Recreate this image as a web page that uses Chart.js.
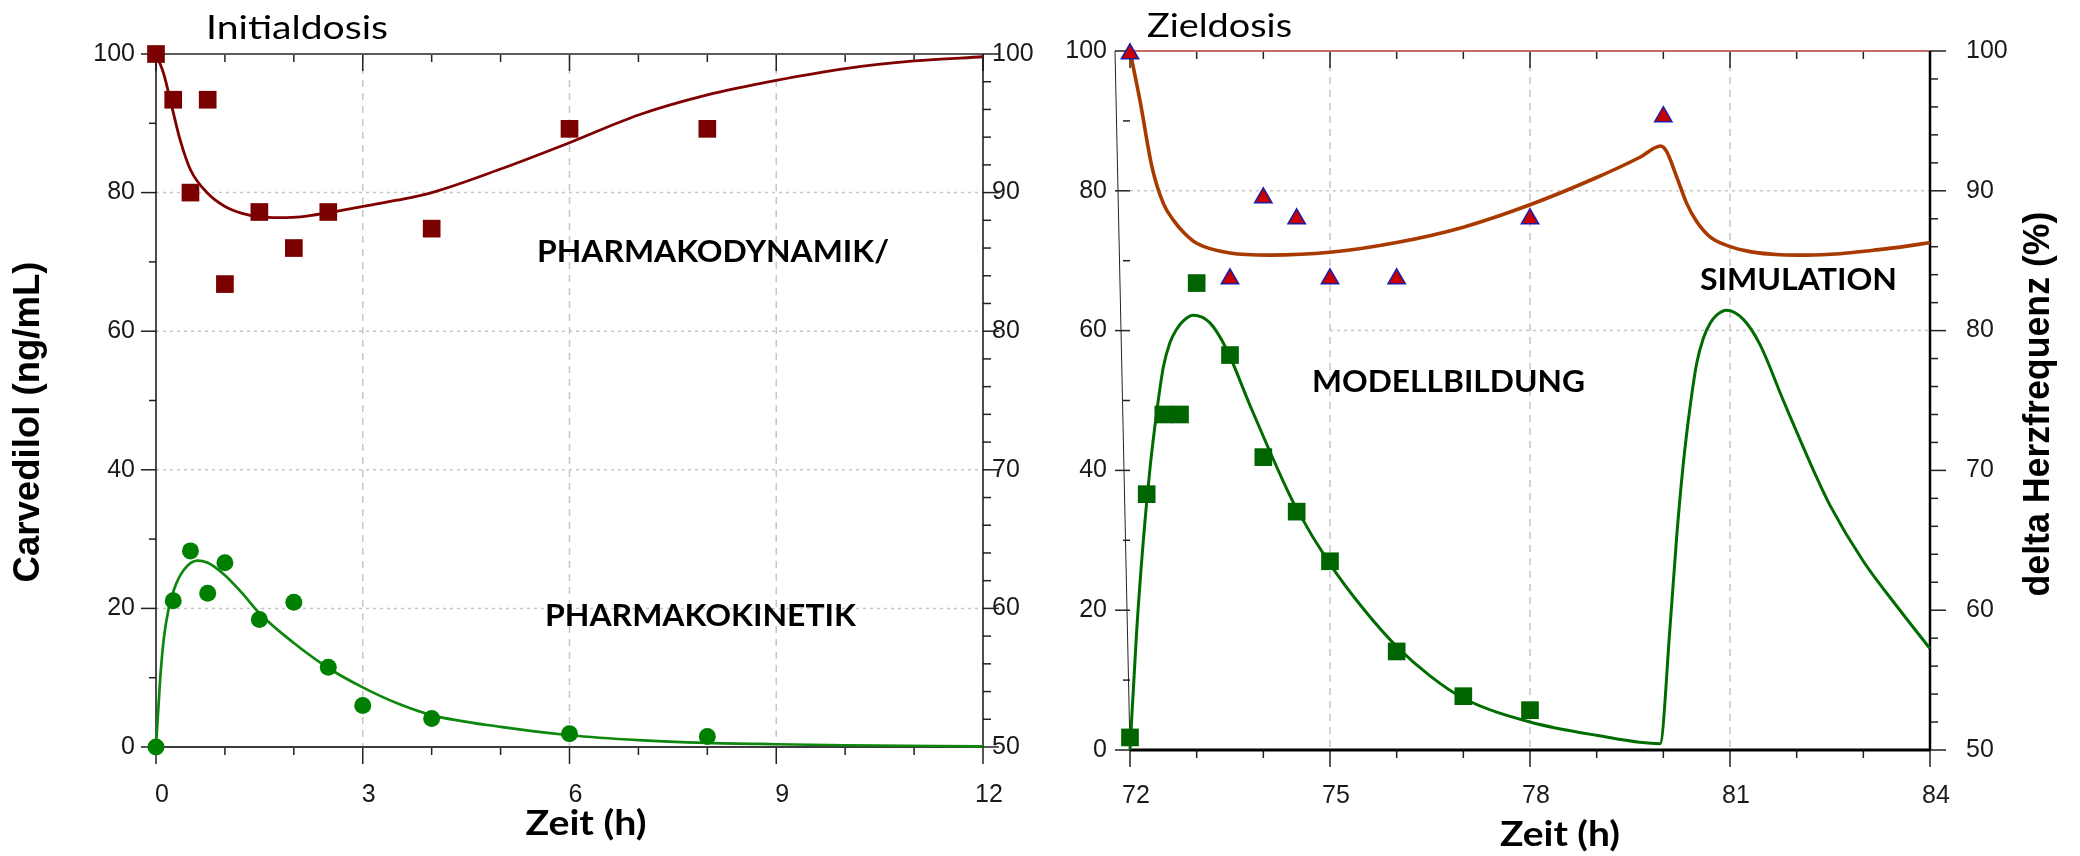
<!DOCTYPE html>
<html>
<head>
<meta charset="utf-8">
<script src="https://cdn.jsdelivr.net/npm/chart.js@4.4.1/dist/chart.umd.min.js"></script>
<style>
  body { margin: 0; background: #fff; }
  .box { position: absolute; top: 0; }
</style>
</head>
<body>
<div class="box" style="left:0"><canvas id="left" width="1050" height="856"></canvas></div>
<div class="box" style="left:1050px"><canvas id="right" width="1030" height="856"></canvas></div>
<script>
// --- Initialdosis (0-12 h) ---
const initConcTime = [0, 0.25, 0.5, 0.75, 1, 1.5, 2, 2.5, 3, 4, 6, 8];
const initConcObs  = [0, 21.1, 28.3, 22.2, 26.6, 18.4, 20.9, 11.5, 6.0, 4.1, 1.9, 1.5];
const initHrTime   = [0, 0.25, 0.5, 0.75, 1, 1.5, 2, 2.5, 4, 6, 8];
const initHrObs    = [100, 96.7, 90, 96.7, 83.4, 88.6, 86, 88.6, 87.4, 94.6, 94.6];
const initConcFitTime = [0, 0.06, 0.11, 0.18, 0.26, 0.4, 0.6, 0.75, 1, 1.25, 1.5, 2, 2.5, 3, 3.5, 4, 5, 6, 7, 8, 9, 10, 12];
const initConcFit     = [0, 9.7, 15.4, 19.8, 22.7, 25.5, 26.9, 26.6, 24.8, 22.2, 19.3, 15.0, 11.4, 8.6, 6.3, 4.6, 2.9, 1.7, 1.0, 0.6, 0.4, 0.25, 0.1];
const initHrFitTime = [0, 0.11, 0.23, 0.35, 0.5, 0.75, 1, 1.25, 1.5, 1.8, 2.1, 2.5, 3, 3.5, 4, 5, 6, 7, 8, 9, 10, 11, 12];
const initHrFit     = [100, 98.6, 96.2, 93.8, 91.65, 89.95, 89.0, 88.5, 88.25, 88.2, 88.25, 88.55, 89.0, 89.45, 90.0, 91.7, 93.6, 95.6, 97.05, 98.1, 98.95, 99.5, 99.8];

// --- Zieldosis (72-84 h) ---
const targConcTime = [72, 72.25, 72.5, 72.75, 73, 73.5, 74, 74.5, 75, 76, 77, 78];
const targConcObs  = [1.8, 36.6, 48.0, 48.0, 66.8, 56.5, 41.9, 34.1, 27.0, 14.1, 7.7, 5.7];
const targHrTime   = [72, 73.5, 74, 74.5, 75, 76, 78, 80];
const targHrObs    = [99.8, 83.7, 89.5, 88.0, 83.7, 83.7, 88.0, 95.3];
const targConcFitTime = [72, 72.1, 72.2, 72.3, 72.4, 72.5, 72.6, 72.7, 72.8, 72.95, 73.2, 73.45, 73.8, 74.3, 74.5, 75, 75.5, 76, 76.5, 77, 78, 79, 79.95,
                         80.1, 80.2, 80.3, 80.4, 80.5, 80.6, 80.7, 80.8, 80.95, 81.2, 81.45, 81.8, 82.3, 82.5, 83, 83.5, 84];
const targConcFit     = [0, 17, 30, 40.3, 48.3, 54.8, 58.3, 60.2, 61.4, 62.2, 61.1, 57.3, 49.3, 38.4, 34.5, 26.6, 20.2, 14.8, 10.6, 7.4, 4.0, 2.1, 0.9,
                         17.5, 30.5, 41, 49, 55.3, 58.9, 61, 62.2, 62.9, 61.6, 58.0, 50.0, 39.0, 35.0, 27.0, 20.6, 14.5];
const targHrFitTime = [72, 72.15, 72.33, 72.5, 72.65, 72.82, 73, 73.5, 74.1, 75, 76, 77, 78, 79, 79.65, 79.96,
                       80.05, 80.2, 80.35, 80.5, 80.7, 80.95, 81.3, 81.75, 82.15, 82.65, 83.15, 83.55, 84];
const targHrFit     = [100, 96.45, 91.7, 89.1, 87.9, 86.95, 86.25, 85.55, 85.4, 85.6, 86.3, 87.4, 89.0, 90.95, 92.4, 93.2,
                       92.8, 91.0, 89.1, 87.8, 86.7, 86.1, 85.65, 85.43, 85.4, 85.5, 85.75, 85.97, 86.3];

// tick labels
const concTicks = [0, 20, 40, 60, 80, 100];
const hrTicks = [50, 60, 70, 80, 90, 100];
const initTimeTicks = [0, 3, 6, 9, 12];
const targTimeTicks = [72, 75, 78, 81, 84];

const xTitle = 'Zeit (h)';
const yTitle = 'Carvedilol (ng/mL)';
const y2Title = 'delta Herzfrequenz (%)';

const pts = (xs, ys) => xs.map((x, i) => ({ x, y: ys[i] }));
const tickFont = { family: 'Liberation Sans', size: 25 };

function line(ctx, x1, y1, x2, y2) {
  ctx.beginPath(); ctx.moveTo(x1, y1); ctx.lineTo(x2, y2); ctx.stroke();
}

function drawNote(ctx, n) {
  ctx.save();
  ctx.font = n.font;
  ctx.fillStyle = '#000';
  ctx.textAlign = n.align || 'left';
  ctx.textBaseline = n.baseline || 'alphabetic';
  ctx.translate(n.x, n.y);
  if (n.rotate) ctx.rotate(n.rotate);
  if (n.width) ctx.scale(n.width / ctx.measureText(n.text).width, 1);
  ctx.fillText(n.text, 0, 0);
  ctx.restore();
}

// grid, tick marks and frame drawn under the data; text on top
function framePlugin(st) {
  return {
    id: 'frame',
    beforeDatasetsDraw(chart) {
      const { ctx, chartArea: a, scales: { x, y, y2 } } = chart;
      ctx.save();
      ctx.lineWidth = 1.5;
      ctx.strokeStyle = '#c6c6c6';
      ctx.setLineDash([7, 6]);
      st.vGrid.forEach(v => {
        const px = x.getPixelForValue(v);
        line(ctx, px, a.top, px, a.bottom);
      });
      ctx.setLineDash([3, 4]);
      st.hGrid.forEach(g => {
        const py = y.getPixelForValue(g.v);
        const x0 = g.from !== undefined ? x.getPixelForValue(g.from) : a.left;
        line(ctx, x0, py, a.right, py);
      });
      ctx.setLineDash([]);

      ctx.strokeStyle = '#222';
      ctx.lineWidth = 1.5;
      const nx = Math.round(x.max - x.min);
      for (let i = 0; i <= nx; i++) {
        const px = x.getPixelForValue(x.min + i);
        const major = i % 3 === 0;
        line(ctx, px, a.bottom, px, a.bottom + (major ? 17 : 8));
        line(ctx, px, a.top, px, a.top + (major ? 17 : 8));
      }
      for (let i = 0; i <= 10; i++) {
        const py = y.getPixelForValue(i * 10);
        line(ctx, a.left - (i % 2 === 0 ? 15 : 7), py, a.left, py);
      }
      for (let i = 0; i <= 25; i++) {
        const py = y2.getPixelForValue(50 + i * 2);
        line(ctx, a.right, py, a.right + (i % 5 === 0 ? 16 : 8), py);
      }

      const b = st.border;
      ctx.strokeStyle = b.top[0]; ctx.lineWidth = b.top[1];
      line(ctx, a.left, a.top, a.right, a.top);
      ctx.strokeStyle = b.bottom[0]; ctx.lineWidth = b.bottom[1];
      line(ctx, a.left, a.bottom, a.right, a.bottom);
      ctx.strokeStyle = b.left[0]; ctx.lineWidth = b.left[1];
      line(ctx, a.left - (st.slant || 0), a.top, a.left, a.bottom);
      ctx.strokeStyle = b.right[0]; ctx.lineWidth = b.right[1];
      line(ctx, a.right, a.top, a.right, a.bottom);
      ctx.restore();
    },
    afterDraw(chart) {
      st.notes.forEach(n => drawNote(chart.ctx, n));
    }
  };
}

function axes(timeTicks, fit) {
  const hide = { display: false, drawTicks: false };
  return {
    x: {
      type: 'linear', position: 'bottom', min: timeTicks[0], max: timeTicks[timeTicks.length - 1],
      afterBuildTicks: s => { s.ticks = timeTicks.map(v => ({ value: v })); },
      ticks: { font: tickFont, color: '#1a1a1a', padding: fit.xPad, labelOffset: 6, maxRotation: 0, autoSkip: false },
      grid: hide, border: { display: false },
      afterFit: s => { s.height = fit.xH; }
    },
    y: {
      type: 'linear', position: 'left', min: concTicks[0], max: concTicks[concTicks.length - 1],
      afterBuildTicks: s => { s.ticks = concTicks.map(v => ({ value: v })); },
      ticks: { font: tickFont, color: '#1a1a1a', padding: fit.yPad },
      grid: hide, border: { display: false },
      afterFit: s => { s.width = fit.yW; }
    },
    y2: {
      type: 'linear', position: 'right', min: hrTicks[0], max: hrTicks[hrTicks.length - 1],
      afterBuildTicks: s => { s.ticks = hrTicks.map(v => ({ value: v })); },
      ticks: { font: tickFont, color: '#1a1a1a', padding: fit.y2Pad },
      grid: hide, border: { display: false },
      afterFit: s => { s.width = fit.y2W; }
    }
  };
}

const common = {
  responsive: false, animation: false, events: [],
  plugins: { legend: { display: false }, tooltip: { enabled: false } }
};

const capsFont = 'bold 31px Lato';

new Chart(document.getElementById('left'), {
  type: 'line',
  data: {
    datasets: [
      { data: pts(initHrTime, initHrObs), yAxisID: 'y2', showLine: false, pointStyle: 'rect', pointRadius: 12.5,
        backgroundColor: '#7b0000', borderColor: '#7b0000', borderWidth: 0, clip: false },
      { data: pts(initConcTime, initConcObs), yAxisID: 'y', showLine: false, pointStyle: 'circle', pointRadius: 8.5,
        backgroundColor: '#008000', borderColor: '#008000', borderWidth: 0, clip: false },
      { data: pts(initHrFitTime, initHrFit), yAxisID: 'y2', borderColor: '#800000', borderWidth: 2.8,
        pointRadius: 0, cubicInterpolationMode: 'monotone', clip: false },
      { data: pts(initConcFitTime, initConcFit), yAxisID: 'y', borderColor: '#0e870e', borderWidth: 2.7,
        pointRadius: 0, cubicInterpolationMode: 'monotone', clip: false }
    ]
  },
  options: Object.assign({}, common, {
    layout: { padding: { top: 54, left: 0, right: 0, bottom: 0 } },
    scales: axes(initTimeTicks, { xH: 109, xPad: 33, yW: 156, yPad: 21, y2W: 67, y2Pad: 9 })
  }),
  plugins: [framePlugin({
    vGrid: [3, 6, 9],
    hGrid: [{ v: 20 }, { v: 40 }, { v: 60 }, { v: 80 }],
    border: { top: ['#5c5c5c', 2], bottom: ['#3a3a3a', 2], left: ['#111', 1.5], right: ['#111', 1.5] },
    notes: [
      { text: 'Initialdosis', x: 206, y: 39, font: '33px Lato', width: 182 },
      { text: 'PHARMAKODYNAMIK/', x: 537, y: 262, font: capsFont, width: 352 },
      { text: 'PHARMAKOKINETIK', x: 545, y: 626, font: capsFont, width: 311 },
      { text: xTitle, x: 586, y: 835, font: 'bold 35px Lato', width: 121, align: 'center' },
      { text: yTitle, x: 29, y: 422, font: 'bold 36px "Liberation Sans"', width: 321, align: 'center',
        baseline: 'middle', rotate: -Math.PI / 2 }
    ]
  })]
});

new Chart(document.getElementById('right'), {
  type: 'line',
  data: {
    datasets: [
      { data: pts(targHrTime, targHrObs), yAxisID: 'y2', showLine: false, pointStyle: 'triangle', pointRadius: 10,
        backgroundColor: '#c80000', borderColor: '#1d1da8', borderWidth: 1.5, clip: false },
      { data: pts(targConcTime, targConcObs), yAxisID: 'y', showLine: false, pointStyle: 'rect', pointRadius: 12.5,
        backgroundColor: '#006400', borderColor: '#006400', borderWidth: 0, clip: false },
      { data: pts(targHrFitTime, targHrFit), yAxisID: 'y2', borderColor: '#a83a00', borderWidth: 3.6,
        pointRadius: 0, cubicInterpolationMode: 'monotone', clip: false },
      { data: pts(targConcFitTime, targConcFit), yAxisID: 'y', borderColor: '#006c00', borderWidth: 3,
        pointRadius: 0, cubicInterpolationMode: 'monotone', clip: false }
    ]
  },
  options: Object.assign({}, common, {
    layout: { padding: { top: 47, left: 0, right: 0, bottom: 0 } },
    scales: axes(targTimeTicks, { xH: 106, xPad: 31, yW: 80, yPad: 23, y2W: 150, y2Pad: 36 })
  }),
  plugins: [framePlugin({
    vGrid: [75, 78, 81],
    hGrid: [{ v: 80 }, { v: 60, from: 75 }],
    slant: 15,
    border: { top: ['#c46a6a', 2], bottom: ['#000', 3], left: ['#222', 1], right: ['#000', 2.5] },
    notes: [
      { text: 'Zieldosis', x: 97, y: 37, font: '33px Lato', width: 145 },
      { text: 'MODELLBILDUNG', x: 262, y: 392, font: capsFont, width: 273 },
      { text: 'SIMULATION', x: 650, y: 290, font: capsFont, width: 197 },
      { text: xTitle, x: 510, y: 846, font: 'bold 35px Lato', width: 120, align: 'center' },
      { text: y2Title, x: 989, y: 404, font: 'bold 36px "Liberation Sans"', width: 385, align: 'center',
        baseline: 'middle', rotate: -Math.PI / 2 }
    ]
  })]
});
</script>
</body>
</html>
